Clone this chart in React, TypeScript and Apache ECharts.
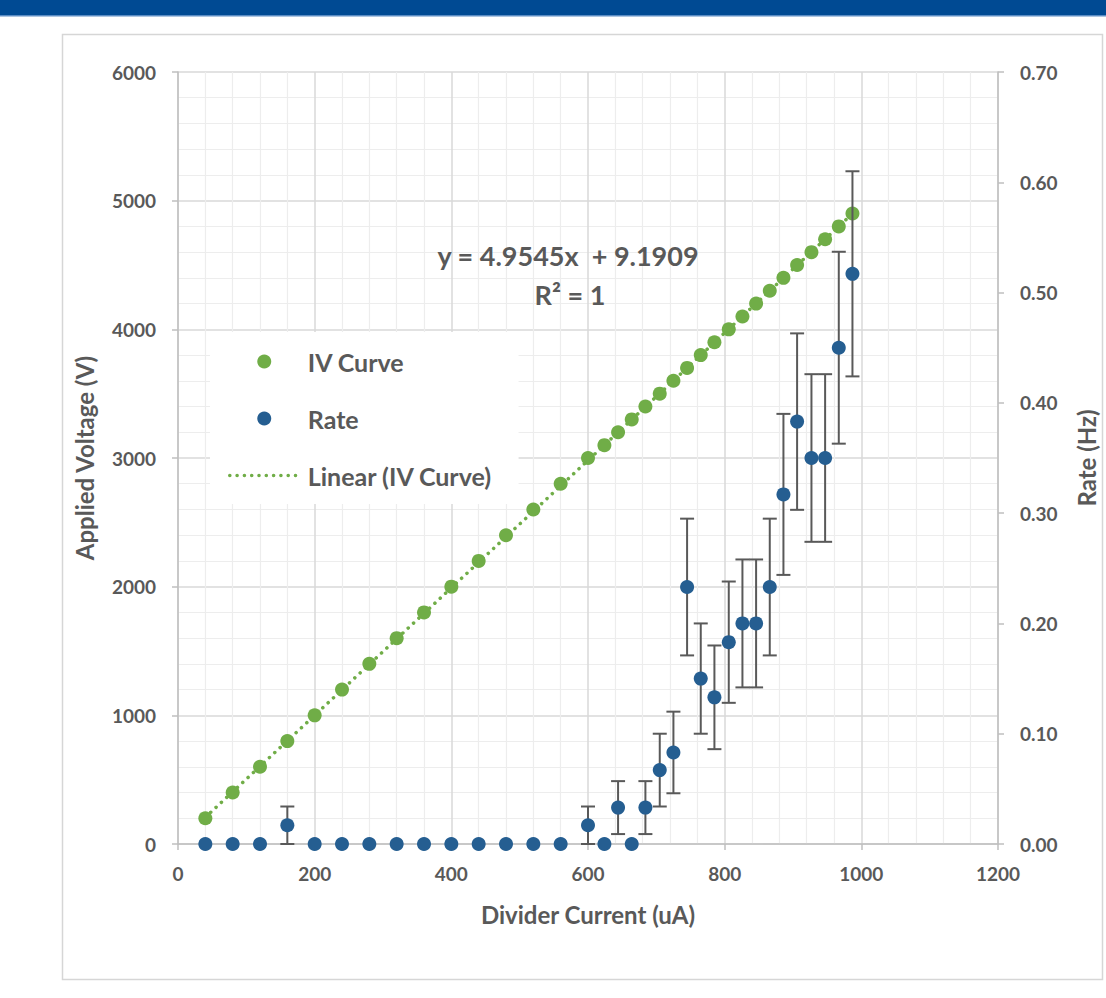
import React, { useEffect, useRef } from "react";
import * as echarts from "echarts";

// ---- data ----
const currentUA = [40, 80, 120, 160, 200, 240, 280, 320, 360, 400, 440, 480, 520, 560, 600, 624, 644, 664, 684, 705, 725, 745, 765, 785, 806, 826, 846, 866, 886, 906, 927, 947, 967, 987];
const voltageV = [200, 400, 600, 800, 1000, 1200, 1400, 1600, 1800, 2000, 2200, 2400, 2600, 2800, 3000, 3100, 3200, 3300, 3400, 3500, 3600, 3700, 3800, 3900, 4000, 4100, 4200, 4300, 4400, 4500, 4600, 4700, 4800, 4900];
const rateHz = [0, 0, 0, 0.017, 0, 0, 0, 0, 0, 0, 0, 0, 0, 0, 0.017, 0, 0.033, 0, 0.033, 0.067, 0.083, 0.233, 0.15, 0.133, 0.183, 0.2, 0.2, 0.233, 0.317, 0.383, 0.35, 0.35, 0.45, 0.517];
const rateErrHz = [0, 0, 0, 0.017, 0, 0, 0, 0, 0, 0, 0, 0, 0, 0, 0.017, 0, 0.024, 0, 0.024, 0.033, 0.037, 0.062, 0.05, 0.047, 0.055, 0.058, 0.058, 0.062, 0.073, 0.08, 0.076, 0.076, 0.087, 0.093];
const trendSlope = 4.9545;
const trendIntercept = 9.1909;
const equationText = "y = 4.9545x  + 9.1909";
const r2Text = "R² = 1";
const seriesNames = ["IV Curve", "Rate", "Linear (IV Curve)"];

const FONT = 'Lato, "Open Sans", sans-serif';
const GRAY = "#595959";
const GREEN = "#70AD47";
const BLUE = "#255E91";

export default function App() {
  const ref = useRef<HTMLDivElement>(null);

  useEffect(() => {
    if (!ref.current) return;
    const chart = echarts.init(ref.current, undefined, { renderer: "svg" });

    const ivData = currentUA.map((x, i) => [x, voltageV[i]]);
    const rateData = currentUA.map((x, i) => [x, rateHz[i]]);
    const errData = currentUA.map((x, i) => [x, rateHz[i], rateErrHz[i]]);
    const xMin = Math.min(...currentUA);
    const xMax = Math.max(...currentUA);
    const trendData = [
      [xMin, trendSlope * xMin + trendIntercept],
      [xMax, trendSlope * xMax + trendIntercept],
    ];

    const labelStyle = { fontFamily: FONT, fontSize: 19, fontWeight: "bold" as const, color: GRAY };
    const nameStyle = { fontFamily: FONT, fontSize: 24, fontWeight: "bold" as const, color: GRAY };

    chart.setOption({
      animation: false,
      backgroundColor: "#ffffff",
      graphic: [
        { type: "rect", shape: { x: 0, y: 0, width: 1106, height: 15 }, style: { fill: "#004A93" }, silent: true },
        { type: "rect", shape: { x: 0, y: 15, width: 1106, height: 1.5 }, style: { fill: "#5A8CC4" }, silent: true },
        { type: "rect", shape: { x: 62.5, y: 34.5, width: 1040, height: 945 }, style: { fill: "none", stroke: "#D6D6D6", lineWidth: 1.5 }, silent: true },
        { type: "text", x: 568, y: 255, style: { text: equationText, fontFamily: FONT, fontSize: 27, fontWeight: "bold", fill: GRAY, align: "center", verticalAlign: "middle" }, z: 10 },
        { type: "text", x: 570, y: 294, style: { text: r2Text, fontFamily: FONT, fontSize: 27, fontWeight: "bold", fill: GRAY, align: "center", verticalAlign: "middle" }, z: 10 },
      ],
      legend: {
        orient: "vertical",
        left: 210,
        top: 332,
        padding: [17, 26, 16, 18],
        backgroundColor: "#ffffff",
        itemWidth: 69,
        itemHeight: 14,
        itemGap: 32,
        selectedMode: false,
        textStyle: { fontFamily: FONT, fontSize: 25, fontWeight: "bold", color: GRAY, padding: [0, 0, 0, 4], lineHeight: 25 },
        data: [
          { name: seriesNames[0], icon: "circle" },
          { name: seriesNames[1], icon: "circle" },
          { name: seriesNames[2], itemStyle: { opacity: 0 }, lineStyle: { color: GREEN, width: 3.5, type: [0.1, 7.2], cap: "round", opacity: 1 } },
        ],
      },
      grid: { left: 178, right: 107, top: 72, bottom: 154, containLabel: false },
      xAxis: {
        type: "value",
        min: 0,
        max: 1200,
        interval: 200,
        name: "Divider Current (uA)",
        nameLocation: "middle",
        nameGap: 58,
        nameTextStyle: nameStyle,
        axisLine: { show: true, onZero: false, lineStyle: { color: "#BFBFBF", width: 1.5 } },
        axisTick: { show: true, length: 6, lineStyle: { color: "#BFBFBF", width: 1.5 } },
        axisLabel: { ...labelStyle, margin: 20, formatter: (v: number) => String(v) },
        splitLine: { show: true, lineStyle: { color: "#D9D9D9", width: 1.5 } },
        minorTick: { show: false, splitNumber: 5 },
        minorSplitLine: { show: true, lineStyle: { color: "#EDEDED", width: 1.2 } },
      },
      yAxis: [
        {
          type: "value",
          min: 0,
          max: 6000,
          interval: 1000,
          name: "Applied Voltage (V)",
          nameLocation: "middle",
          nameGap: 82,
          nameRotate: 90,
          nameTextStyle: nameStyle,
          axisLine: { show: true, lineStyle: { color: "#BFBFBF", width: 1.5 } },
          axisTick: { show: true, length: 6, lineStyle: { color: "#BFBFBF", width: 1.5 } },
          axisLabel: { ...labelStyle, margin: 22, formatter: (v: number) => String(v) },
          splitLine: { show: true, lineStyle: { color: "#D9D9D9", width: 1.5 } },
          minorTick: { show: false, splitNumber: 5 },
          minorSplitLine: { show: true, lineStyle: { color: "#EDEDED", width: 1.2 } },
        },
        {
          type: "value",
          min: 0,
          max: 0.7,
          interval: 0.1,
          name: "Rate (Hz)",
          nameLocation: "middle",
          nameGap: 76,
          nameRotate: 90,
          nameTextStyle: nameStyle,
          axisLine: { show: true, lineStyle: { color: "#BFBFBF", width: 1.5 } },
          axisTick: { show: true, length: 6, lineStyle: { color: "#BFBFBF", width: 1.5 } },
          axisLabel: { ...labelStyle, margin: 22, formatter: (v: number) => v.toFixed(2) },
          splitLine: { show: false },
        },
      ],
      series: [
        {
          name: seriesNames[2],
          type: "line",
          data: trendData,
          symbol: "none",
          showSymbol: false,
          lineStyle: { color: GREEN, width: 3.5, type: [0.1, 7.2], cap: "round" },
          itemStyle: { color: GREEN },
          z: 3,
          silent: true,
        },
        {
          name: seriesNames[0],
          type: "scatter",
          data: ivData,
          symbol: "circle",
          symbolSize: 14,
          itemStyle: { color: GREEN, opacity: 1 },
          z: 4,
        },
        {
          name: "Rate error",
          type: "custom",
          xAxisIndex: 0,
          yAxisIndex: 1,
          data: errData,
          encode: { x: 0, y: 1 },
          z: 5,
          silent: true,
          renderItem: (params: any, api: any) => {
            const x = api.value(0);
            const y = api.value(1);
            const e = api.value(2);
            if (!e) return { type: "group", children: [] };
            const top = api.coord([x, y + e]);
            const bot = api.coord([x, y - e]);
            const hw = 7;
            const st = { stroke: "#595959", lineWidth: 2 };
            return {
              type: "group",
              children: [
                { type: "line", shape: { x1: top[0], y1: top[1], x2: bot[0], y2: bot[1] }, style: st },
                { type: "line", shape: { x1: top[0] - hw, y1: top[1], x2: top[0] + hw, y2: top[1] }, style: st },
                { type: "line", shape: { x1: bot[0] - hw, y1: bot[1], x2: bot[0] + hw, y2: bot[1] }, style: st },
              ],
            };
          },
        },
        {
          name: seriesNames[1],
          type: "scatter",
          yAxisIndex: 1,
          data: rateData,
          symbol: "circle",
          symbolSize: 14,
          itemStyle: { color: BLUE, opacity: 1 },
          z: 6,
        },
      ],
    });

    return () => chart.dispose();
  }, []);

  return (
    <div style={{ position: "fixed", left: 0, top: 0, width: 1106, height: 998, background: "#fff" }}>
      <div ref={ref} style={{ width: 1106, height: 998 }} />
    </div>
  );
}
